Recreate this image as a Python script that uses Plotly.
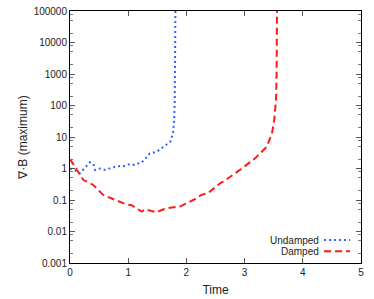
import plotly.graph_objects as go

# Data
undamped_t = [0.0, 0.1, 0.17, 0.25, 0.34, 0.4, 0.43, 0.52, 0.6, 0.66, 0.75, 0.86, 0.95,
              1.03, 1.1, 1.17, 1.22, 1.29, 1.37, 1.49, 1.6, 1.72, 1.77, 1.79, 1.8, 1.805, 1.81, 1.815]
undamped_v = [1.0, 0.85, 0.7, 1.0, 1.57, 1.4, 0.9, 1.0, 0.9, 0.97, 1.1, 1.2, 1.2,
              1.39, 1.3, 1.45, 1.5, 1.96, 3.0, 3.4, 4.9, 7.0, 13, 35, 150, 1000, 1e4, 1e6]

damped_t = [0.0, 0.14, 0.23, 0.3, 0.4, 0.57, 0.77, 0.97, 1.05, 1.15, 1.23, 1.29, 1.4, 1.49,
            1.6, 1.66, 1.89, 2.12, 2.26, 2.38, 2.58, 2.63, 2.92, 3.18, 3.38, 3.47, 3.51,
            3.54, 3.55, 3.555, 3.56]
damped_v = [2.0, 0.8, 0.43, 0.38, 0.3, 0.145, 0.1, 0.072, 0.07, 0.055, 0.043, 0.05, 0.045, 0.041,
            0.05, 0.055, 0.062, 0.1, 0.145, 0.17, 0.34, 0.38, 0.9, 2.1, 4.9, 13, 35,
            150, 1000, 1e4, 1e6]

y_tickvals = [1e-3, 1e-2, 1e-1, 1, 10, 100, 1000, 1e4, 1e5]
y_ticktext = ["0.001", "0.01", "0.1", "1", "10", "100", "1000", "10000", "100000"]
x_tickvals = [0, 1, 2, 3, 4, 5]

minor_vals = [m * 10 ** e for e in range(-3, 5) for m in (2, 5, 8)]

series_names = ["Undamped", "Damped"]
blue = "#2f62ff"
red = "#ff1a1a"

fig = go.Figure()
fig.add_trace(go.Scatter(x=undamped_t, y=undamped_v, mode="lines", name=series_names[0],
                         line=dict(color=blue, width=2, dash="2px,3px"), showlegend=False))
fig.add_trace(go.Scatter(x=damped_t, y=damped_v, mode="lines", name=series_names[1],
                         line=dict(color=red, width=2, dash="7px,4px"), showlegend=False))

font = dict(family="Liberation Sans, Arial, sans-serif", size=10, color="#222")

fig.update_layout(
    width=374, height=299,
    margin=dict(l=70, r=13, t=11, b=36, autoexpand=False),
    paper_bgcolor="white", plot_bgcolor="white",
    font=font,
    showlegend=False,
)
fig.update_xaxes(range=[0, 5], tickvals=x_tickvals, ticks="inside", ticklen=5,
                 tickcolor="#555", showline=True, linecolor="black", linewidth=1,
                 mirror="allticks", showgrid=False, zeroline=False, automargin=False,
                 title=dict(text="Time", standoff=8))
fig.update_yaxes(type="log", range=[-3, 5], tickvals=y_tickvals, ticktext=y_ticktext,
                 ticks="inside", ticklen=5, tickcolor="#555",
                 minor=dict(tickvals=minor_vals, ticks="inside", ticklen=3, tickcolor="#777"),
                 showline=True, linecolor="black", linewidth=1, mirror="allticks",
                 showgrid=False, zeroline=False, automargin=False,
                 title=dict(text="∇·B (maximum)", standoff=3))

# Legend (text right-aligned, sample to the right, as in the reference)
legend_y = [0.091, 0.047]
legend_styles = [dict(color=blue, width=2, dash="2px,3px"), dict(color=red, width=2, dash="7px,4px")]
for name, yy, st in zip(series_names, legend_y, legend_styles):
    fig.add_annotation(x=0.861, y=yy, xref="paper", yref="paper", text=name,
                       showarrow=False, xanchor="right", yanchor="middle", font=font)
    fig.add_shape(type="line", xref="paper", yref="paper", x0=0.873, x1=0.962,
                  y0=yy, y1=yy, line=st)

fig.write_html("out.html", config={"displayModeBar": False},
               post_script="document.body.style.margin='0';")
